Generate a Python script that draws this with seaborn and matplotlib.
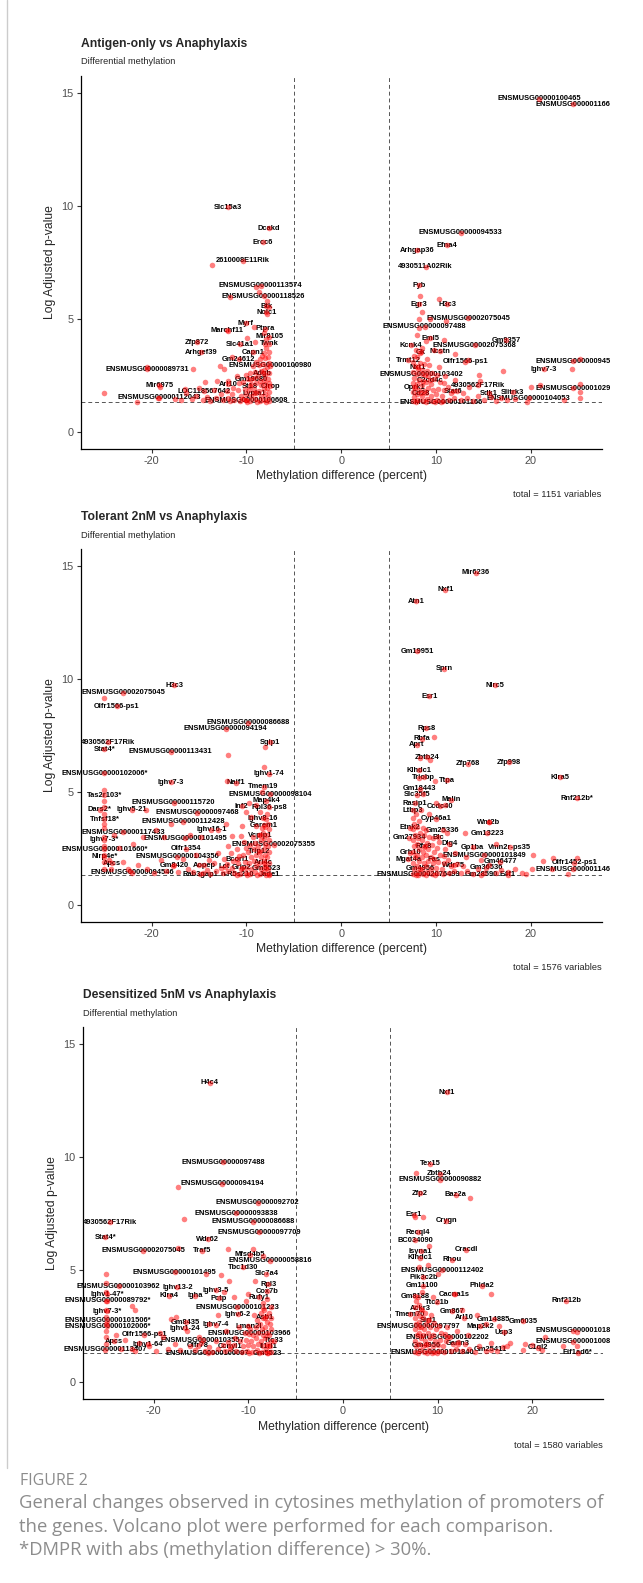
import numpy as np
import matplotlib
matplotlib.use("Agg")
import matplotlib.pyplot as plt
import seaborn as sns

# ---------------- data ----------------
# panel 1: Antigen-only vs Anaphylaxis
p1_genes = ["Slc15a3", "Dcakd", "Ercc6", "2610008E11Rik", "ENSMUSG00000113574",
            "ENSMUSG00000118526", "Btk", "Nolc1", "Myrf", "Ptpra", "Marchf11", "Mir8105",
            "Zfp872", "Slc41a1", "Twnk", "Arhgef39", "Capn1", "Gm24612",
            "ENSMUSG00000089731", "ENSMUSG00000100980", "Adgb", "Gm19680", "Mir6975",
            "Arl10", "St18", "Cirop", "LOC118567642", "Lypla1", "ENSMUSG00000112043",
            "ENSMUSG00000100608",
            "ENSMUSG00000100465", "ENSMUSG000001166", "ENSMUSG00000094533", "Efna4",
            "Arhgap36", "4930511A02Rik", "Fyb", "Egr3", "H3c3", "ENSMUSG00002075045",
            "ENSMUSG00000097488", "Eml5", "Gm9357", "Kcnk4", "ENSMUSG00002075368", "Gk",
            "Ncstn", "Trmt12", "Olfr1566-ps1", "ENSMUSG000000945", "Nxt1", "Ighv7-3",
            "ENSMUSG00000103402", "C2cd4c", "4930562F17Rik", "Oprk1", "ENSMUSG000001029",
            "Stat6", "Cd28", "Sdk1", "Slitrk3", "ENSMUSG00000101166", "ENSMUSG00000104053"]
p1_gx = [-12.0, -7.6, -8.3, -10.4, -8.5, -8.2, -7.9, -7.9, -10.1, -8.0, -12.1, -7.6,
         -15.2, -10.7, -7.6, -14.8, -9.3, -10.8, -20.5, -7.5, -8.3, -9.5, -19.2,
         -11.9, -9.6, -7.5, -14.5, -9.2, -19.2, -10.0,
         20.9, 24.5, 12.6, 11.2, 8.0, 8.9, 8.2, 8.2, 11.2, 13.4, 8.8, 9.4, 17.4, 7.4,
         14.1, 8.4, 10.4, 7.1, 13.1, 24.5, 8.1, 21.4, 8.5, 9.4, 14.4, 7.7, 24.5,
         11.8, 8.4, 15.6, 18.1, 10.5, 19.8]
p1_gy = [9.93, 9.00, 8.38, 7.57, 6.46, 5.99, 5.56, 5.30, 4.80, 4.56, 4.49, 4.20,
         3.96, 3.88, 3.89, 3.53, 3.53, 3.22, 2.76, 2.92, 2.60, 2.32, 2.07,
         2.10, 2.02, 2.02, 1.80, 1.70, 1.51, 1.40,
         14.75, 14.50, 8.82, 8.26, 8.04, 7.30, 6.49, 5.64, 5.65, 5.02, 4.65, 4.13, 4.06,
         3.84, 3.82, 3.51, 3.57, 3.17, 3.10, 3.13, 2.85, 2.77, 2.55, 2.29, 2.07, 1.96,
         1.92, 1.79, 1.70, 1.70, 1.76, 1.30, 1.48]
p1_other = [(-25.0, 1.73), (-21.6, 1.33), (-20.5, 2.85), (-19.1, 2.0), (-19.3, 1.5),
            (-17.5, 1.45), (-16.9, 1.4), (-16.5, 1.9), (-16.4, 1.7), (-15.6, 2.77),
            (-15.0, 1.95), (-14.4, 2.21), (-13.6, 7.38), (-13.1, 2.25), (-12.8, 2.93),
            (-12.4, 2.78), (-11.5, 3.32), (-11.7, 5.97), (-9.0, 6.41), (-8.7, 6.19),
            (-7.8, 5.78), (-7.6, 5.52), (-7.8, 5.23), (-9.2, 4.65), (-8.1, 4.36),
            (-9.9, 4.13), (-12.0, 4.48), (-9.1, 3.98), (-8.0, 3.9), (-7.9, 4.1),
            (-7.6, 1.35), (-7.7, 1.55), (-7.6, 1.75), (-7.8, 1.95), (-7.6, 2.15),
            (-7.7, 2.35), (-7.6, 2.6), (-7.8, 2.85), (-7.6, 3.05), (-7.7, 3.3), (-7.6, 3.55),
            (-8.1, 1.4), (-8.0, 1.65), (-8.2, 1.9), (-8.0, 2.1), (-8.2, 2.3), (-8.0, 2.5),
            (-8.1, 2.75), (-8.3, 3.0), (-8.0, 3.25), (-8.2, 3.5), (-8.6, 1.35), (-8.5, 1.6),
            (-8.7, 1.8), (-8.5, 2.05), (-8.6, 2.25), (-8.8, 2.45), (-8.5, 2.7), (-8.7, 2.95),
            (-8.6, 3.2), (-9.1, 1.45), (-9.0, 1.7), (-9.2, 1.9), (-9.0, 2.15), (-9.2, 2.4),
            (-9.1, 2.65), (-9.3, 2.9), (-9.6, 1.35), (-9.5, 1.6), (-9.7, 1.85), (-9.5, 2.1),
            (-9.8, 2.35), (-9.6, 2.6), (-10.1, 1.4), (-10.0, 1.65), (-10.2, 1.9),
            (-10.4, 2.2), (-10.1, 2.5), (-10.7, 1.35), (-10.6, 1.6), (-10.9, 1.85),
            (-10.8, 2.15), (-11.0, 2.45), (-11.3, 1.4), (-11.5, 1.65), (-11.4, 1.95),
            (-11.9, 1.5), (-12.1, 1.8), (-12.0, 2.25), (-12.5, 1.4), (-12.7, 1.65),
            (-13.2, 1.5), (-13.4, 1.85), (-13.8, 1.35), (-14.2, 1.55), (-14.6, 1.4),
            (-15.3, 1.6), (-15.8, 1.45), (-7.9, 3.7), (-8.4, 3.35), (-9.0, 3.1),
            (-7.9, 1.3), (-8.9, 1.3), (-9.9, 1.3), (-10.4, 1.45), (-11.7, 1.35),
            (10.3, 5.87), (8.2, 5.0), (8.2, 4.6), (9.4, 5.0), (11.1, 4.9), (10.9, 4.05),
            (9.0, 4.0), (12.0, 3.45), (13.4, 3.17), (8.0, 4.3), (9.8, 3.6), (8.5, 3.7),
            (8.3, 6.0), (8.5, 5.3),
            (7.6, 1.35), (7.7, 1.55), (7.6, 1.75), (7.8, 1.95), (7.6, 2.15), (7.7, 2.4),
            (7.6, 2.65), (7.8, 2.9), (7.6, 3.1), (7.7, 3.35), (8.1, 1.4), (8.0, 1.65),
            (8.2, 1.85), (8.0, 2.1), (8.2, 2.3), (8.0, 2.55), (8.1, 2.8), (8.3, 3.05),
            (8.0, 3.3), (8.6, 1.35), (8.5, 1.6), (8.7, 1.8), (8.5, 2.05), (8.6, 2.25),
            (8.8, 2.5), (8.5, 2.75), (8.7, 3.0), (9.1, 1.45), (9.0, 1.7), (9.2, 1.95),
            (9.0, 2.2), (9.2, 2.45), (9.1, 2.7), (9.3, 2.95), (9.6, 1.35), (9.5, 1.6),
            (9.7, 1.85), (9.5, 2.1), (9.8, 2.35), (9.6, 2.6), (10.1, 1.4), (10.0, 1.65),
            (10.2, 1.9), (10.4, 2.2), (10.1, 2.5), (10.3, 2.85), (10.7, 1.35), (10.6, 1.6),
            (10.9, 1.85), (10.8, 2.15), (11.0, 2.45), (11.4, 1.4), (11.6, 1.7), (11.3, 2.0),
            (11.9, 1.5), (12.2, 1.8), (12.0, 2.3), (12.6, 1.4), (12.9, 1.7), (13.3, 1.5),
            (13.5, 2.0), (13.9, 1.35), (14.4, 1.6), (14.6, 2.25), (14.5, 2.5), (15.1, 1.4),
            (15.8, 1.55), (16.3, 1.35), (16.9, 1.5), (17.5, 1.4), (18.3, 1.45), (19.6, 1.3),
            (20.0, 1.96), (21.0, 2.07), (17.1, 2.68), (24.4, 2.77), (25.2, 3.2), (25.2, 2.1),
            (25.2, 1.74), (25.2, 1.5), (23.5, 1.4), (7.9, 1.3), (8.9, 1.3), (9.9, 1.3),
            (8.3, 3.5), (9.1, 3.2), (7.9, 3.6)]

# panel 2: Tolerant 2nM vs Anaphylaxis
p2_genes = ["H3c3", "ENSMUSG00002075045", "Olfr1566-ps1", "ENSMUSG00000086688",
            "ENSMUSG00000094194", "4930562F17Rik", "Stat4*", "Sgip1", "ENSMUSG00000113431",
            "ENSMUSG00000102006*", "Ighv1-74", "Ighv7-3", "Naif1", "Tmem19", "Tas2r103*",
            "ENSMUSG00000098104", "Map4k4", "ENSMUSG00000115720", "Dars2*", "Ighv5-21",
            "Inf2", "Rpl36-ps8", "ENSMUSG00000097468", "Tnfsf18*", "Ighv8-16",
            "ENSMUSG00000112428", "Garem1", "Ighv16-1", "ENSMUSG00000117433", "Vcpip1",
            "Ighv7-3*", "ENSMUSG00000101495", "ENSMUSG00002075355", "Olfr1354",
            "ENSMUSG00000101660*", "Trip12", "Nlrp4e*", "ENSMUSG00000104356", "Bcorl1",
            "Apcs", "Gm8420", "Aopep", "Arl4c", "Lct", "Grip2", "Gm5523",
            "ENSMUSG00000094546", "Rab3gap1", "n-R5s210", "Jade1",
            "Mir6236", "Nxf1", "Atn1", "Gm19951", "Sprn", "Nlrc5", "Esr1", "Rps8", "Rbfa",
            "Aprt", "Zbtb24", "Zfp768", "Zfp998", "Klhdc1", "Klra5", "Triobp", "Ttpa",
            "Gm18443", "Slc35f5", "Rnf212b*", "Malin", "Rasip1", "Ccdc40", "Ltbp3",
            "Cyp46a1", "Wnt2b", "Etnk2", "Gm25336", "Gm13223", "Gm27934", "Blc", "Dlg4",
            "Rfx8", "Gp1ba", "Vmn2r-ps35", "Grb10", "ENSMUSG00000101849", "Mgat4a", "Fas",
            "Gm46477", "Olfr1452-ps1", "Wdr75", "Gm36536", "Gm4956", "ENSMUSG000001146",
            "ENSMUSG00002076499", "Gm28590", "E4f1"]
p2_gx = [-17.6, -23.0, -23.7, -9.8, -12.2, -24.6, -25.0, -7.5, -18.0, -25.0, -7.6,
         -18.0, -11.1, -8.2, -25.0, -7.5, -7.9, -17.7, -25.5, -22.1, -10.5, -7.6, -15.2,
         -25.0, -8.3, -16.7, -8.2, -13.7, -23.0, -8.6, -25.0, -16.5, -7.1, -16.4, -25.0,
         -8.7, -25.0, -17.3, -11.0, -24.2, -17.6, -14.5, -8.2, -12.3, -10.5, -7.9, -22.1,
         -14.9, -11.0, -7.6,
         14.2, 11.0, 7.9, 8.0, 10.9, 16.2, 9.3, 9.0, 8.5, 8.0, 9.1, 13.4, 17.7, 8.2, 23.1,
         8.7, 11.2, 8.3, 8.0, 24.9, 11.6, 7.8, 10.4, 7.6, 10.0, 15.6, 7.3, 10.7, 15.4,
         7.2, 10.2, 11.4, 8.7, 13.9, 17.8, 7.3, 15.1, 7.1, 9.8, 16.8, 24.6, 11.9, 15.3,
         8.3, 24.5, 8.1, 14.8, 17.6]
p2_gy = [9.73, 9.39, 8.80, 8.06, 7.79, 7.20, 6.90, 7.20, 6.79, 5.83, 5.81, 5.43, 5.41,
         5.24, 4.86, 4.90, 4.61, 4.53, 4.21, 4.20, 4.36, 4.31, 4.07, 3.80, 3.84, 3.67,
         3.52, 3.32, 3.21, 3.08, 2.89, 2.95, 2.67, 2.48, 2.45, 2.37, 2.13, 2.13, 2.01,
         1.83, 1.76, 1.76, 1.86, 1.69, 1.64, 1.62, 1.42, 1.35, 1.33, 1.33,
         14.72, 13.96, 13.45, 11.24, 10.46, 9.73, 9.24, 7.82, 7.35, 7.09, 6.54, 6.24,
         6.31, 5.95, 5.64, 5.65, 5.51, 5.14, 4.87, 4.71, 4.65, 4.49, 4.37, 4.19, 3.82,
         3.65, 3.41, 3.30, 3.18, 2.98, 3.00, 2.71, 2.57, 2.55, 2.55, 2.30, 2.20, 2.01,
         2.01, 1.91, 1.86, 1.76, 1.64, 1.60, 1.57, 1.33, 1.33, 1.33]
p2_other = [(-25.0, 9.18), (-12.0, 6.64), (-8.0, 7.0), (-12.1, 5.5), (-8.1, 6.1),
            (-8.4, 5.0), (-8.6, 4.1), (-9.7, 4.5), (-7.8, 4.0), (-20.6, 4.2), (-18.7, 3.0),
            (-22.5, 1.6), (-25.0, 1.6), (-25.0, 1.9), (-25.0, 2.2), (-25.0, 2.6),
            (-25.0, 3.0), (-25.0, 3.4), (-25.0, 3.6), (-25.0, 4.0), (-25.0, 4.35),
            (-25.0, 4.6), (-25.0, 5.1), (-24.3, 1.6), (-24.5, 2.0), (-24.0, 3.1),
            (-7.6, 1.35), (-7.7, 1.6), (-7.6, 1.85), (-7.8, 2.1), (-7.6, 2.35), (-7.7, 2.6),
            (-7.6, 2.85), (-7.8, 3.1), (-7.6, 3.35), (-7.7, 3.6), (-8.1, 1.45), (-8.0, 1.7),
            (-8.2, 1.95), (-8.0, 2.2), (-8.2, 2.45), (-8.0, 2.7), (-8.1, 2.95), (-8.3, 3.2),
            (-8.0, 3.45), (-8.6, 1.35), (-8.5, 1.6), (-8.7, 1.85), (-8.5, 2.1), (-8.6, 2.35),
            (-8.8, 2.6), (-8.5, 2.85), (-8.7, 3.1), (-9.1, 1.45), (-9.0, 1.7), (-9.2, 1.95),
            (-9.0, 2.2), (-9.2, 2.45), (-9.1, 2.75), (-9.3, 3.0), (-9.6, 1.35), (-9.5, 1.6),
            (-9.7, 1.85), (-9.5, 2.1), (-9.8, 2.35), (-9.6, 2.65), (-10.1, 1.4), (-10.0, 1.65),
            (-10.2, 1.9), (-10.4, 2.2), (-10.1, 2.5), (-10.3, 2.8), (-10.7, 1.35),
            (-10.6, 1.6), (-10.9, 1.85), (-10.8, 2.15), (-11.0, 2.45), (-10.6, 3.05),
            (-11.3, 1.4), (-11.5, 1.65), (-11.4, 1.95), (-11.6, 2.3), (-11.9, 1.5),
            (-12.1, 1.8), (-12.0, 2.6), (-12.5, 1.4), (-12.7, 1.65), (-12.4, 2.05),
            (-13.2, 1.5), (-13.4, 1.85), (-13.0, 2.3), (-13.8, 1.35), (-14.2, 1.55),
            (-14.0, 2.0), (-14.6, 1.4), (-15.0, 1.75), (-15.3, 2.2), (-15.6, 1.45),
            (-16.2, 1.6), (-16.7, 2.05), (-17.2, 1.45), (-17.8, 1.7), (-18.5, 1.5),
            (-19.0, 2.0), (-19.8, 1.4), (-20.5, 1.6), (-21.5, 1.75), (-22.3, 1.5),
            (-23.0, 1.9), (-23.5, 2.5), (-22.0, 2.7), (-20.9, 3.0), (-19.5, 3.3),
            (-18.0, 3.6), (-16.0, 3.1), (-14.8, 3.0), (-13.0, 3.3), (-12.2, 3.6),
            (-11.5, 3.05), (-10.5, 3.5), (-9.5, 3.9), (-10.0, 4.1), (-9.0, 4.4),
            (-7.9, 1.3), (-8.9, 1.3), (-9.9, 1.3), (-7.9, 3.8), (-8.4, 3.4), (-9.0, 3.5),
            (7.6, 1.35), (7.7, 1.6), (7.6, 1.85), (7.8, 2.1), (7.6, 2.35), (7.7, 2.6),
            (7.6, 2.85), (7.8, 3.1), (7.6, 3.35), (7.7, 3.6), (7.6, 3.85), (8.1, 1.45),
            (8.0, 1.7), (8.2, 1.95), (8.0, 2.2), (8.2, 2.45), (8.0, 2.7), (8.1, 2.95),
            (8.3, 3.2), (8.0, 3.45), (8.2, 3.7), (8.6, 1.35), (8.5, 1.6), (8.7, 1.85),
            (8.5, 2.1), (8.6, 2.35), (8.8, 2.6), (8.5, 2.85), (8.7, 3.1), (8.6, 3.4),
            (9.1, 1.45), (9.0, 1.7), (9.2, 1.95), (9.0, 2.2), (9.2, 2.45), (9.1, 2.75),
            (9.3, 3.0), (9.0, 3.3), (9.6, 1.35), (9.5, 1.6), (9.7, 1.85), (9.5, 2.1),
            (9.8, 2.35), (9.6, 2.65), (9.7, 2.95), (10.1, 1.4), (10.0, 1.65), (10.2, 1.9),
            (10.4, 2.2), (10.1, 2.5), (10.3, 2.8), (10.7, 1.35), (10.6, 1.6), (10.9, 1.85),
            (10.8, 2.15), (11.0, 2.45), (11.2, 3.2), (11.4, 1.4), (11.6, 1.7), (11.3, 2.0),
            (11.9, 1.5), (12.2, 1.8), (12.0, 2.3), (12.6, 1.4), (12.9, 1.7), (13.3, 1.5),
            (13.2, 2.1), (13.9, 1.35), (14.4, 1.6), (14.8, 2.0), (15.1, 1.4), (15.6, 1.75),
            (16.3, 1.4), (16.9, 1.55), (17.6, 1.45), (18.3, 1.6), (19.1, 1.4), (15.6, 3.65),
            (13.1, 3.2), (16.3, 2.7), (20.2, 2.2), (21.3, 1.94), (22.4, 2.07), (24.9, 2.07),
            (23.9, 1.35), (22.3, 1.6), (20.1, 1.57), (19.5, 1.38), (9.8, 7.42), (8.3, 6.5),
            (9.4, 6.4), (8.2, 5.6), (9.9, 5.5), (8.6, 4.9), (10.0, 4.5), (11.0, 4.4),
            (8.4, 4.2), (9.3, 4.0), (7.9, 1.3), (8.9, 1.3), (9.9, 1.3), (7.9, 4.0)]

# panel 3: Desensitized 5nM vs Anaphylaxis
p3_genes = ["H4c4", "ENSMUSG00000097488", "ENSMUSG00000094194", "ENSMUSG00000092702",
            "ENSMUSG00000093838", "4930562F17Rik", "ENSMUSG00000086688",
            "ENSMUSG00000097709", "Stat4*", "Wdr62", "ENSMUSG00002075045", "Traf5",
            "Mfsd4b5", "ENSMUSG00000058816", "Tbc1d30", "ENSMUSG00000101495", "Slc7a4",
            "ENSMUSG00000103962", "Ighv13-2", "Rpl3", "Ighv3-5", "Cox7b", "Ighv1-47*",
            "Klra4", "Igha", "Pctp", "Rufy1", "ENSMUSG00000089792*", "ENSMUSG00000101223",
            "Ighv7-3*", "Ighv6-2", "Asb1", "ENSMUSG00000101506*", "Gm8435",
            "ENSMUSG00000102006*", "Ighv1-24", "Ighv7-4", "Lman2l", "Olfr1566-ps1",
            "ENSMUSG00000103966", "Apcs", "ENSMUSG00000103557", "Ttc33", "Ighv1-64",
            "Olfr78", "Ccnyl1", "Il1rl1", "ENSMUSG00000113407", "ENSMUSG00000100097",
            "Gm5523",
            "Nxf1", "Tex15", "Zbtb24", "ENSMUSG00000090882", "Zfp2", "Baz2a", "Esr1",
            "Crygn", "Recql4", "BC034090", "Isyna1", "Cracdl", "Klhdc1", "Rhou",
            "ENSMUSG00000112402", "Pik3c2b", "Gm11100", "Phlda2", "Gm8188", "Cacna1s",
            "Rnf212b", "Ttc21b", "Ackr3", "Gm867", "Tmem70", "Arl10", "Gm14885", "Gm6035",
            "Sirt1", "ENSMUSG00000097797", "Map2k2", "ENSMUSG000001018", "Usp3",
            "ENSMUSG00000102202", "ENSMUSG000001008", "Gm4956", "Garin3", "C1ql2",
            "Gm25411", "ENSMUSG00000101840", "Eif1ad6*"]
p3_gx = [-14.1, -12.7, -12.8, -9.0, -11.3, -24.6, -9.5, -8.9, -25.1, -14.3, -21.1,
         -14.9, -9.8, -7.7, -10.6, -17.8, -8.1, -23.7, -17.5, -7.9, -13.4, -8.0, -24.9,
         -18.4, -15.6, -13.1, -8.9, -24.9, -11.2, -24.9, -11.1, -8.2, -24.9, -16.6,
         -24.9, -16.7, -13.4, -10.0, -21.0, -9.9, -24.2, -14.8, -7.3, -20.6, -15.3, -11.9,
         -7.9, -25.1, -14.3, -8.0,
         11.0, 9.2, 10.2, 10.3, 8.1, 11.9, 7.5, 10.9, 7.9, 7.6, 8.2, 13.0, 8.1, 11.5,
         10.5, 8.5, 8.4, 14.7, 7.6, 11.8, 23.6, 9.9, 8.2, 11.5, 7.1, 12.8, 15.9, 19.0,
         9.0, 8.0, 14.5, 24.3, 17.0, 11.0, 24.3, 8.8, 12.1, 20.6, 15.6, 9.4, 24.8]
p3_gy = [13.28, 9.76, 8.80, 7.96, 7.51, 7.11, 7.13, 6.65, 6.43, 6.36, 5.84, 5.84, 5.66,
         5.40, 5.10, 4.88, 4.81, 4.26, 4.23, 4.36, 4.08, 4.04, 3.92, 3.84, 3.84, 3.74,
         3.77, 3.62, 3.33, 3.15, 3.03, 2.86, 2.74, 2.66, 2.48, 2.41, 2.56, 2.48, 2.12,
         2.16, 1.82, 1.86, 1.84, 1.70, 1.63, 1.60, 1.60, 1.45, 1.30, 1.30,
         12.86, 9.70, 9.26, 8.99, 8.40, 8.32, 7.44, 7.18, 6.67, 6.30, 5.81, 5.88, 5.52,
         5.44, 4.97, 4.66, 4.29, 4.29, 3.81, 3.92, 3.62, 3.55, 3.27, 3.15, 3.03, 2.86,
         2.81, 2.71, 2.75, 2.46, 2.48, 2.29, 2.22, 2.00, 1.80, 1.64, 1.72, 1.53, 1.45,
         1.32, 1.32]
p3_other = [(-25.0, 4.8), (-25.0, 4.4), (-25.0, 4.0), (-25.0, 3.6), (-25.0, 3.2),
            (-25.0, 2.9), (-25.0, 2.6), (-25.0, 2.3), (-25.0, 2.0), (-25.0, 1.7),
            (-22.3, 3.4), (-22.0, 3.2),
            (-7.6, 1.35), (-7.7, 1.6), (-7.6, 1.85), (-7.8, 2.1), (-7.6, 2.35), (-7.7, 2.6),
            (-7.6, 2.85), (-7.8, 3.1), (-7.6, 3.35), (-8.1, 1.45), (-8.0, 1.7), (-8.2, 1.95),
            (-8.0, 2.2), (-8.2, 2.45), (-8.0, 2.7), (-8.1, 2.95), (-8.3, 3.2), (-8.6, 1.35),
            (-8.5, 1.6), (-8.7, 1.85), (-8.5, 2.1), (-8.6, 2.35), (-8.8, 2.6), (-8.5, 2.85),
            (-8.7, 3.1), (-9.1, 1.45), (-9.0, 1.7), (-9.2, 1.95), (-9.0, 2.2), (-9.2, 2.45),
            (-9.1, 2.75), (-9.6, 1.35), (-9.5, 1.6), (-9.7, 1.85), (-9.5, 2.1), (-9.8, 2.35),
            (-10.1, 1.4), (-10.0, 1.65), (-10.2, 1.9), (-10.4, 2.2), (-10.7, 1.35),
            (-10.6, 1.6), (-10.9, 1.85), (-11.0, 2.45), (-11.3, 1.4), (-11.5, 1.65),
            (-11.4, 1.95), (-11.9, 1.5), (-12.1, 1.8), (-12.5, 1.4), (-12.7, 1.65),
            (-13.2, 1.5), (-13.4, 1.85), (-13.8, 1.35), (-14.2, 1.55), (-14.6, 1.4),
            (-15.0, 1.75), (-15.6, 1.45), (-16.2, 1.6), (-17.2, 1.45), (-17.8, 1.7),
            (-18.5, 1.5), (-19.0, 2.0), (-19.8, 1.4), (-20.5, 1.6), (-21.5, 1.75),
            (-22.3, 1.5), (-23.0, 1.9), (-17.6, 2.9), (-18.2, 2.8), (-19.3, 2.2),
            (-16.5, 2.3), (-15.2, 2.0), (-14.2, 2.6), (-13.2, 3.0), (-12.4, 2.3),
            (-11.5, 3.8), (-10.3, 3.6), (-12.6, 4.0), (-10.0, 3.9), (-8.5, 3.5), (-8.0, 3.7),
            (-9.3, 4.5), (-12.2, 5.9), (-12.9, 4.78), (-14.5, 4.8), (-16.8, 7.26),
            (-17.4, 8.65), (-17.4, 5.95), (-12.0, 4.5), (-9.5, 5.9), (-8.5, 5.6),
            (-24.0, 2.1), (-23.5, 1.5), (-22.0, 1.4), (-7.9, 1.3), (-8.9, 1.3),
            (-9.9, 1.3), (-9.4, 3.0), (-8.4, 3.3),
            (7.6, 1.35), (7.7, 1.6), (7.6, 1.85), (7.8, 2.1), (7.6, 2.35), (7.7, 2.6),
            (7.6, 2.85), (7.8, 3.1), (7.6, 3.35), (7.7, 3.6), (8.1, 1.45), (8.0, 1.7),
            (8.2, 1.95), (8.0, 2.2), (8.2, 2.45), (8.0, 2.7), (8.1, 2.95), (8.3, 3.2),
            (8.0, 3.45), (8.6, 1.35), (8.5, 1.6), (8.7, 1.85), (8.5, 2.1), (8.6, 2.35),
            (8.8, 2.6), (8.5, 2.85), (8.7, 3.1), (9.1, 1.45), (9.0, 1.7), (9.2, 1.95),
            (9.0, 2.2), (9.2, 2.45), (9.1, 2.75), (9.3, 3.0), (9.6, 1.35), (9.5, 1.6),
            (9.7, 1.85), (9.5, 2.1), (9.8, 2.35), (9.6, 2.65), (10.1, 1.4), (10.0, 1.65),
            (10.2, 1.9), (10.4, 2.2), (10.1, 2.5), (10.7, 1.35), (10.6, 1.6), (10.9, 1.85),
            (10.8, 2.15), (11.0, 2.45), (11.4, 1.4), (11.6, 1.7), (11.3, 2.0), (11.9, 1.5),
            (12.2, 1.8), (12.0, 2.3), (12.6, 1.4), (12.9, 1.7), (13.3, 1.5), (13.2, 2.1),
            (13.9, 1.35), (14.4, 1.6), (15.1, 1.4), (15.6, 1.75), (16.3, 1.4), (16.9, 1.55),
            (17.6, 1.75), (17.3, 1.6), (19.0, 1.45), (19.2, 1.7), (20.0, 1.68), (21.0, 1.42),
            (21.3, 2.0), (23.2, 1.63), (24.7, 2.25), (24.7, 1.6), (12.6, 3.2), (14.2, 3.0),
            (15.1, 2.6), (16.5, 2.5), (11.7, 3.9), (9.5, 3.8), (8.3, 4.0), (7.7, 9.29),
            (13.4, 8.18), (7.6, 7.35), (8.4, 7.35), (9.1, 6.06), (15.6, 3.92), (10.0, 4.8),
            (8.0, 5.1), (9.0, 5.2), (7.9, 1.3), (8.9, 1.3), (9.9, 1.3), (7.9, 3.8)]

titles = ["Antigen-only vs Anaphylaxis", "Tolerant 2nM vs Anaphylaxis",
          "Desensitized 5nM vs Anaphylaxis"]
totals = [1151, 1576, 1580]
x_ticks = [-20, -10, 0, 10, 20]
y_ticks = [0, 5, 10, 15]
caption = ["General changes observed in cytosines methylation of promoters of",
           "the genes. Volcano plot were performed for each comparison.",
           "*DMPR with abs (methylation difference) > 30%."]

# ---------------- figure ----------------
sns.set_style("ticks")
plt.rcParams['font.family'] = ['Liberation Sans', 'DejaVu Sans']
plt.rcParams['axes.unicode_minus'] = False

W, H = 643, 1583
fig = plt.figure(figsize=(W / 100, H / 100), dpi=100)

# panel boxes in pixels: left, top, right, bottom
boxes = [(80.7, 76, 601.7, 448.7), (80.7, 549.3, 601.7, 921.7), (82.7, 1027.3, 603.3, 1399.3)]
panels = [(p1_genes, p1_gx, p1_gy, p1_other),
          (p2_genes, p2_gx, p2_gy, p2_other),
          (p3_genes, p3_gx, p3_gy, p3_other)]


def fx(px):
    return px / W


def fy(py):
    return 1 - py / H


for i, (box, (genes, gx, gy, other)) in enumerate(zip(boxes, panels)):
    l, t, r, b = box
    ax = fig.add_axes([fx(l), fy(b), (r - l) / W, (b - t) / H])
    oth = np.array(other)
    xs = np.concatenate([gx, oth[:, 0]])
    ys = np.concatenate([gy, oth[:, 1]])
    sns.scatterplot(x=xs, y=ys, color="red", alpha=0.5, s=16, linewidth=0, ax=ax,
                    zorder=3, legend=False)
    for g, x, y in zip(genes, gx, gy):
        ax.text(x, y, g, fontsize=5.4, fontweight="bold", ha="center", va="center",
                color="black", zorder=2)
    for v in (-5, 5):
        ax.axvline(v, color="#555555", lw=0.7, ls=(0, (4, 3)), zorder=1)
    ax.axhline(1.301, color="#555555", lw=0.7, ls=(0, (4, 3)), zorder=1)

    ax.set_xlim(-27.5, 27.5)
    ax.set_ylim(-0.75, 15.75)
    ax.set_xticks(x_ticks)
    ax.set_yticks(y_ticks)
    ax.tick_params(axis="both", labelsize=7.8, labelcolor="#4d4d4d", length=2.6,
                   width=0.8, color="#333333", pad=2.5)
    for s in ("left", "bottom"):
        ax.spines[s].set_linewidth(0.9)
        ax.spines[s].set_color("black")
    sns.despine(ax=ax)
    ax.set_xlabel("Methylation difference (percent)", fontsize=8.7, labelpad=3)
    ax.set_ylabel("Log Adjusted p-value", fontsize=8.7, labelpad=4)

    fig.text(fx(l), fy(t - 32), titles[i], fontsize=8.7, fontweight="bold",
             ha="left", va="center")
    fig.text(fx(l), fy(t - 14), "Differential methylation", fontsize=6.7,
             ha="left", va="center")
    fig.text(fx(r), fy(b + 46), "total = %d variables" % totals[i], fontsize=6.7,
             ha="right", va="center")

# frame line on the left and figure caption
fig.add_artist(plt.Line2D([fx(6.7), fx(6.7)], [fy(0), fy(1468)], color="#cccccc", lw=1))
fig.text(fx(20), fy(1481), "FIGURE 2", fontsize=11.5, color="#8c8c8c",
         family=["Open Sans", "DejaVu Sans"], ha="left", va="center")
for k, line in enumerate(caption):
    fig.text(fx(19), fy(1503 + 23.5 * k), line, fontsize=13.3, color="#8c8c8c",
             family=["Open Sans", "DejaVu Sans"], ha="left", va="center")

fig.savefig("out.png", dpi=100)
